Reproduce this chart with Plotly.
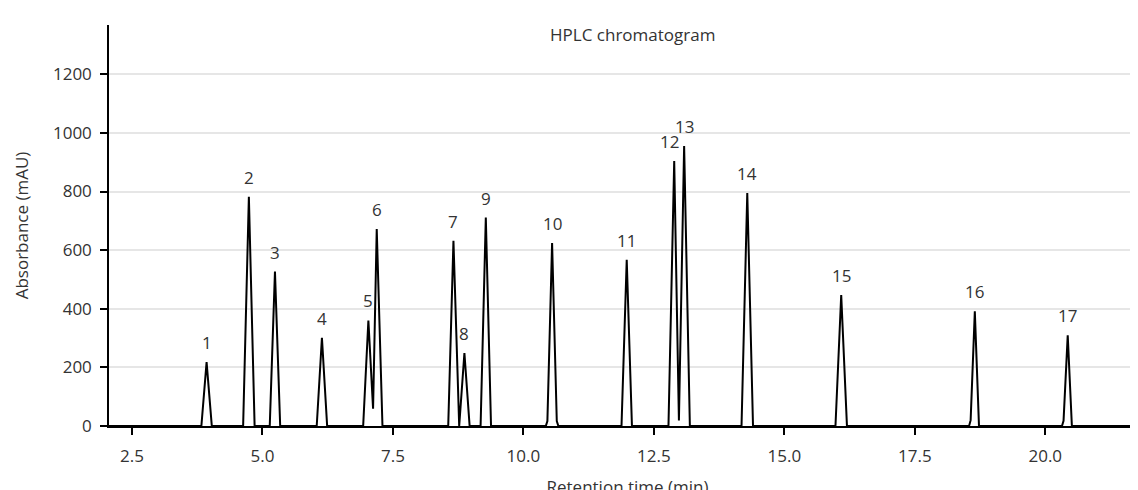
import plotly.graph_objects as go

# Sampled detector trace (retention time in min, absorbance in mAU)
time_min = [2.0,
            3.83, 3.93, 4.03,
            4.63, 4.74, 4.85,
            5.14, 5.24, 5.34,
            6.04, 6.14, 6.24,
            6.93, 7.03, 7.12, 7.19, 7.30,
            8.56, 8.66, 8.77, 8.87, 8.97,
            9.18, 9.28, 9.38,
            10.43, 10.46, 10.55, 10.64, 10.67,
            11.88, 11.98, 12.08,
            12.78, 12.89, 12.98, 13.08, 13.19,
            14.18, 14.29, 14.40,
            15.98, 16.09, 16.20,
            18.54, 18.57, 18.65, 18.73,
            20.32, 20.35, 20.43, 20.51,
            22.0]
absorbance_mau = [0,
                  0, 218, 0,
                  0, 782, 0,
                  0, 527, 0,
                  0, 301, 0,
                  0, 360, 59, 672, 0,
                  0, 632, 0, 249, 0,
                  0, 711, 0,
                  0, 17, 624, 17, 0,
                  0, 567, 0,
                  0, 904, 19, 955, 0,
                  0, 795, 0,
                  0, 447, 0,
                  0, 20, 391, 0,
                  0, 18, 309, 0,
                  0]

# Peak labels
peak_ids = [str(i) for i in range(1, 18)]
peak_times = [3.93, 4.74, 5.24, 6.14, 7.03, 7.19, 8.66, 8.87, 9.28, 10.55,
              11.98, 12.89, 13.08, 14.29, 16.09, 18.65, 20.43]
peak_heights = [218, 782, 527, 301, 360, 672, 632, 249, 711, 624,
                567, 904, 955, 795, 447, 391, 309]
label_xshift = [0, 0, 0, 0, 0, 0, 0, 0, 0, 0, 0, -5, 0, 0, 0, 0, 0]

x_ticks = [2.5, 5.0, 7.5, 10.0, 12.5, 15.0, 17.5, 20.0]
y_ticks = [0, 200, 400, 600, 800, 1000, 1200]

FONT = "Open Sans"
TXT = "#333333"
FS = 17

fig = go.Figure()
fig.add_trace(go.Scatter(x=time_min, y=absorbance_mau, mode="lines",
                         line=dict(color="black", width=2),
                         hoverinfo="x+y", showlegend=False))

for pid, t, h, dx in zip(peak_ids, peak_times, peak_heights, label_xshift):
    fig.add_annotation(x=t, y=h, text=pid, showarrow=False,
                       yanchor="bottom", yshift=6, xshift=dx,
                       font=dict(family=FONT, size=FS, color=TXT))

fig.update_layout(
    width=1138, height=490,
    margin=dict(l=101, r=0, t=17, b=72, autoexpand=False),
    paper_bgcolor="white", plot_bgcolor="white",
    font=dict(family=FONT, size=FS, color=TXT),
    title=dict(text="HPLC chromatogram", x=0.549, xanchor="center",
               y=0.945, yanchor="middle", font=dict(family=FONT, size=FS, color=TXT)),
    xaxis=dict(range=[2.06, 21.93], tickvals=x_ticks,
               ticktext=[f"{v:.1f}" for v in x_ticks],
               showgrid=False, zeroline=False,
               showline=True, linecolor="black", linewidth=1.5,
               ticks="outside", ticklen=7, tickcolor="black", tickwidth=1.5,
               ticklabelstandoff=7,
               title=dict(text="Retention time (min)", standoff=18,
                          font=dict(family=FONT, size=FS, color=TXT)),
               automargin=False),
    yaxis=dict(range=[0, 1368], tickvals=y_ticks,
               showgrid=True, gridcolor="#e6e6e6", gridwidth=1.5,
               zeroline=False,
               showline=True, linecolor="black", linewidth=1.5,
               ticks="outside", ticklen=7, tickcolor="black", tickwidth=1.5,
               ticklabelstandoff=5,
               title=dict(text="Absorbance (mAU)", standoff=20,
                          font=dict(family=FONT, size=FS, color=TXT)),
               automargin=False),
)

fig.write_html("out.html")
